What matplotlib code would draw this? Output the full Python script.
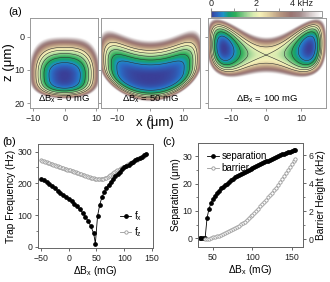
import numpy as np
import matplotlib.pyplot as plt
from matplotlib.colors import LinearSegmentedColormap
from matplotlib.ticker import MultipleLocator

plt.rcParams['font.family'] = ['Liberation Sans', 'DejaVu Sans']
plt.rcParams['mathtext.fontset'] = 'custom'
plt.rcParams['mathtext.rm'] = 'Liberation Sans'
plt.rcParams['mathtext.default'] = 'regular'

# ---- (a) potential maps: one entry per panel
panel_text = ['ΔB$_x$ = 0 mG', 'ΔB$_x$ = 50 mG', 'ΔB$_x$ = 100 mG']
panel_xlims = [(-11, 10.6), (-15, 15), (-16.5, 17)]
z_lims = (-5.7, 21.5)
# polynomial along x (kHz, um)
pot_a2 = [0.0162, 0.002, -0.018056]
pot_a4 = [1.66e-4, 0.0, -3.858e-5]
pot_a6 = [0.0, 2.6e-7, 4.689e-7]
pot_v0 = [0.0, 0.0, 2.0]
# trap axis z0(x) = zc - curv*x^2, and z confinement above / below the axis
pot_zc = [11.5, 12.0, 5.5]
pot_curv = [0.01, 0.03, 0.014]
pot_kz_up = [0.036, 0.04, 0.03]
pot_kz4_up = [0.0, 0.0, 4.5e-4]
pot_kz_down = [0.005, 0.005, 0.03]
pot_kz4_down = [1.6e-3, 1.4e-3, 4.5e-4]
# extra z stiffness at the neck between the wells
pot_neck = [0.0, 0.0, 0.05]
pot_neck_w = [1.0, 1.0, 7.0]
contour_levels = [0.5, 1.0, 1.5, 2.0, 2.5]

cmap_pos = [0.0, 0.06, 0.11, 0.16, 0.22, 0.30, 0.38, 0.44, 0.52, 0.62, 0.72, 0.80, 0.90, 1.0]
cmap_col = ['#3a3f98', '#2b6bc4', '#1d93c6', '#16a070', '#2fae5a', '#8ccc8c', '#d8ecb0',
            '#f6f2b8', '#e0cfa0', '#b89880', '#9a7470', '#a28888', '#d6cccc', '#ffffff']
vmax = 4.9

# ---- (b) trap frequencies
fx_field = [-50, -45, -40, -35, -30, -25, -20, -15, -10, -5, 0, 5, 10, 15, 20, 25, 30, 35, 40, 45, 48,
            52, 56, 60, 64, 68, 72, 76, 80, 84, 88, 92, 96, 100, 104, 108, 112, 116, 120, 124, 128,
            132, 136, 140]
fx_freq = [215, 209, 203, 197, 190, 184, 177, 170, 163, 157, 152, 144, 136, 127, 118, 107, 95, 81, 64, 42, 10,
           97, 133, 157, 172, 185, 196, 205, 214, 222, 230, 237, 244, 250, 255, 259, 264, 268, 272, 276, 280,
           284, 288, 292]
fz_field = [-50, -47.5, -45, -42.5, -40, -37.5, -35, -32.5, -30, -27.5, -25, -22.5, -20, -17.5, -15,
            -12.5, -10, -7.5, -5, -2.5, 0, 2.5, 5, 7.5, 10, 12.5, 15, 17.5, 20, 22.5, 25, 27.5, 30,
            32.5, 35, 37.5, 40, 42.5, 45, 47.5, 50, 52.5, 55, 57.5, 60, 62.5, 65, 67.5, 70, 72.5, 75,
            77.5, 80, 82.5, 85, 87.5, 90, 92.5, 95, 97.5, 100, 102.5, 105, 107.5, 110, 112.5, 115,
            117.5, 120, 122.5, 125, 127.5, 130, 132.5, 135, 137.5, 140]
fz_freq = [272, 270.5, 269, 267.5, 266, 264.5, 263, 261.5, 260, 258.5, 257, 255.5, 254, 252.5, 251,
           249.5, 248, 246.5, 245, 243.5, 242, 240.5, 239, 237.5, 236, 234.5, 233, 231.5, 230, 228.5,
           227, 225.5, 224, 222.5, 221, 219.5, 218, 217, 216, 215, 214, 213, 212.5, 212.5, 213, 214,
           216, 218, 220.5, 223, 226, 229, 232, 235, 238, 241, 243.5, 246, 248.5, 251, 253, 255.5,
           258, 260.5, 263, 265.5, 268, 270, 272.5, 275, 277, 279.5, 282, 284, 286.5, 288.5, 291]

# ---- (c) separation and barrier
sep_field = [33, 35, 37.5, 40, 42.5, 45, 47.5, 50, 52.5, 55, 57.5, 60, 62.5, 65, 67.5, 70, 72.5, 75,
             77.5, 80, 82.5, 85, 87.5, 90, 92.5, 95, 97.5, 100, 102.5, 105, 107.5, 110, 112.5, 115,
             117.5, 120, 122.5, 125, 127.5, 130, 132.5, 135, 137.5, 140, 142.5, 145, 147.5, 150,
             152.5, 154]
sep_um = [0, 0, 0, 0, 7.5, 10.8, 12.9, 14.4, 15.5, 16.6, 17.4, 18.2, 18.9, 19.4, 20.0, 20.6, 21.1,
          21.6, 22.2, 22.6, 23.0, 23.4, 23.8, 24.3, 24.7, 25.0, 25.4, 25.7, 26.1, 26.4, 26.8, 27.2,
          27.5, 27.8, 28.1, 28.4, 28.7, 29.1, 29.4, 29.7, 29.9, 30.3, 30.6, 30.9, 31.1, 31.4, 31.6,
          31.9, 32.1, 32.3]
bar_field = [40, 42.5, 45, 47.5, 50, 52.5, 55, 57.5, 60, 62.5, 65, 67.5, 70, 72.5, 75, 77.5, 80,
             82.5, 85, 87.5, 90, 92.5, 95, 97.5, 100, 102.5, 105, 107.5, 110, 112.5, 115, 117.5, 120,
             122.5, 125, 127.5, 130, 132.5, 135, 137.5, 140, 142.5, 145, 147.5, 150, 152.5, 154]
bar_khz = [0, 0.02, 0.05, 0.09, 0.13, 0.17, 0.22, 0.27, 0.33, 0.38, 0.44, 0.5, 0.56, 0.64, 0.71,
           0.79, 0.88, 0.96, 1.06, 1.16, 1.27, 1.39, 1.51, 1.64, 1.77, 1.9, 2.05, 2.2, 2.35, 2.5,
           2.65, 2.82, 2.99, 3.16, 3.33, 3.5, 3.7, 3.89, 4.09, 4.3, 4.52, 4.73, 4.94, 5.14, 5.35,
           5.6, 5.75]


def potential(i, x, z):
    vx = pot_a2[i]*x**2 + pot_a4[i]*x**4 + pot_a6[i]*x**6 + pot_v0[i]
    dz = z - (pot_zc[i] - pot_curv[i]*x**2)
    k2 = np.where(dz < 0, pot_kz_up[i], pot_kz_down[i])
    k2 = k2 + pot_neck[i]*np.exp(-(x/pot_neck_w[i])**2)
    k4 = np.where(dz < 0, pot_kz4_up[i], pot_kz4_down[i])
    return vx + k2*dz**2 + k4*dz**4


def style_axes(ax, col='#666666', size=6.3):
    for s in ax.spines.values():
        s.set_color(col)
        s.set_linewidth(0.7)
    ax.tick_params(colors=col, labelcolor='#222222', width=0.7, length=2.5, labelsize=size, pad=1.5)
    ax.tick_params(which='minor', colors=col, width=0.6, length=1.5)


W, H = 330, 282
fig = plt.figure(figsize=(W/100, H/100), dpi=100)


def px_axes(x0, y0, x1, y1):
    return fig.add_axes([x0/W, 1 - y1/H, (x1 - x0)/W, (y1 - y0)/H])


cmap = LinearSegmentedColormap.from_list('pot', list(zip(cmap_pos, cmap_col)))

panel_px = [(30, 18, 98, 108), (101, 18, 200, 108), (208, 18, 326, 108)]
for i in range(3):
    ax = px_axes(*panel_px[i])
    xs = np.linspace(panel_xlims[i][0], panel_xlims[i][1], 300)
    zs = np.linspace(z_lims[0], z_lims[1], 300)
    X, Z = np.meshgrid(xs, zs)
    V = potential(i, X, Z)
    im = ax.imshow(np.clip(V, 0, vmax), cmap=cmap, vmin=0, vmax=vmax, origin='lower',
                   extent=[xs[0], xs[-1], zs[0], zs[-1]], aspect='auto', interpolation='bilinear')
    ax.contour(X, Z, V, levels=contour_levels, colors='#303030', linewidths=0.4)
    ax.set_xlim(*panel_xlims[i])
    ax.set_ylim(z_lims[1], z_lims[0])
    ax.set_xticks([-10, 0, 10])
    ax.set_yticks([0, 10, 20])
    style_axes(ax, '#999999', 6.5)
    if i > 0:
        ax.set_yticklabels([])
    ax.text(0.5, 0.03, panel_text[i], transform=ax.transAxes, ha='center', va='bottom', fontsize=6.8)

fig.text(9/W, 1 - 62/H, 'z (μm)', fontsize=9.5, rotation=90, ha='center', va='center')
fig.text(155/W, 1 - 123/H, 'x (μm)', fontsize=9.5, ha='center', va='center')

cax = px_axes(211, 11, 322, 17)
cb = fig.colorbar(im, cax=cax, orientation='horizontal')
cb.set_ticks([0, 2, 4])
cb.set_ticklabels(['0', '2', '4 kHz'])
cax.xaxis.set_ticks_position('top')
cax.xaxis.set_minor_locator(MultipleLocator(1))
cb.outline.set_edgecolor('#888888')
cb.outline.set_linewidth(0.6)
cax.tick_params(which='both', colors='#888888', labelcolor='#222222', labelsize=6.5, length=2, pad=0.5)

# ---- (b)
axb = px_axes(37.7, 144, 153, 248)
axb.plot(fz_field, fz_freq, '-o', color='#999999', lw=0.6, ms=2.4, mfc='white', mew=0.6, label='f$_z$')
axb.plot(fx_field, fx_freq, '-o', color='black', lw=0.6, ms=2.4, label='f$_x$')
axb.set_xlim(-56, 152)
axb.set_ylim(-4, 324)
axb.set_xticks([-50, 0, 50, 100, 150])
axb.set_yticks([0, 100, 200, 300])
axb.yaxis.set_minor_locator(MultipleLocator(50))
style_axes(axb)
axb.set_xlabel('ΔB$_x$ (mG)', fontsize=7.3, labelpad=1)
axb.set_ylabel('Trap Frequency (Hz)', fontsize=7.3, labelpad=1)
h, l = axb.get_legend_handles_labels()
axb.legend(h[::-1], l[::-1], loc='upper left', bbox_to_anchor=(0.67, 0.42), frameon=False,
           fontsize=7, handlelength=1.2, handletextpad=0.3, labelspacing=0.25, borderpad=0)

# ---- (c)
axc = px_axes(198, 143, 303, 247)
axc2 = axc.twinx()
axc.plot(sep_field, sep_um, '-o', color='black', lw=0.6, ms=2.4, label='separation')
axc2.plot(bar_field, bar_khz, '-o', color='#999999', lw=0.6, ms=2.4, mfc='white', mew=0.6, label='barrier')
axc.set_xlim(31, 164)
axc.set_ylim(-3.2, 34.8)
axc2.set_ylim(-0.55, 6.88)
axc.set_xticks([50, 100, 150])
axc.set_yticks([0, 10, 20, 30])
axc.yaxis.set_minor_locator(MultipleLocator(5))
axc2.set_yticks([0, 2, 4, 6])
axc2.yaxis.set_minor_locator(MultipleLocator(1))
style_axes(axc)
style_axes(axc2)
axc.set_xlabel('ΔB$_x$ (mG)', fontsize=7.3, labelpad=1)
axc.set_ylabel('Separation (μm)', fontsize=7.3, labelpad=1)
axc2.set_ylabel('Barrier Height (kHz)', fontsize=7.3, labelpad=2)
h1, l1 = axc.get_legend_handles_labels()
h2, l2 = axc2.get_legend_handles_labels()
axc.legend(h1 + h2, l1 + l2, loc='upper left', bbox_to_anchor=(0.04, 0.97), frameon=False,
           fontsize=7, handlelength=1.2, handletextpad=0.3, labelspacing=0.2, borderpad=0)

fig.text(8/W, 1 - 12/H, '(a)', fontsize=8, ha='left', va='center')
fig.text(2/W, 1 - 142/H, '(b)', fontsize=8, ha='left', va='center')
fig.text(162/W, 1 - 142/H, '(c)', fontsize=8, ha='left', va='center')

fig.savefig('out.png', dpi=100)
